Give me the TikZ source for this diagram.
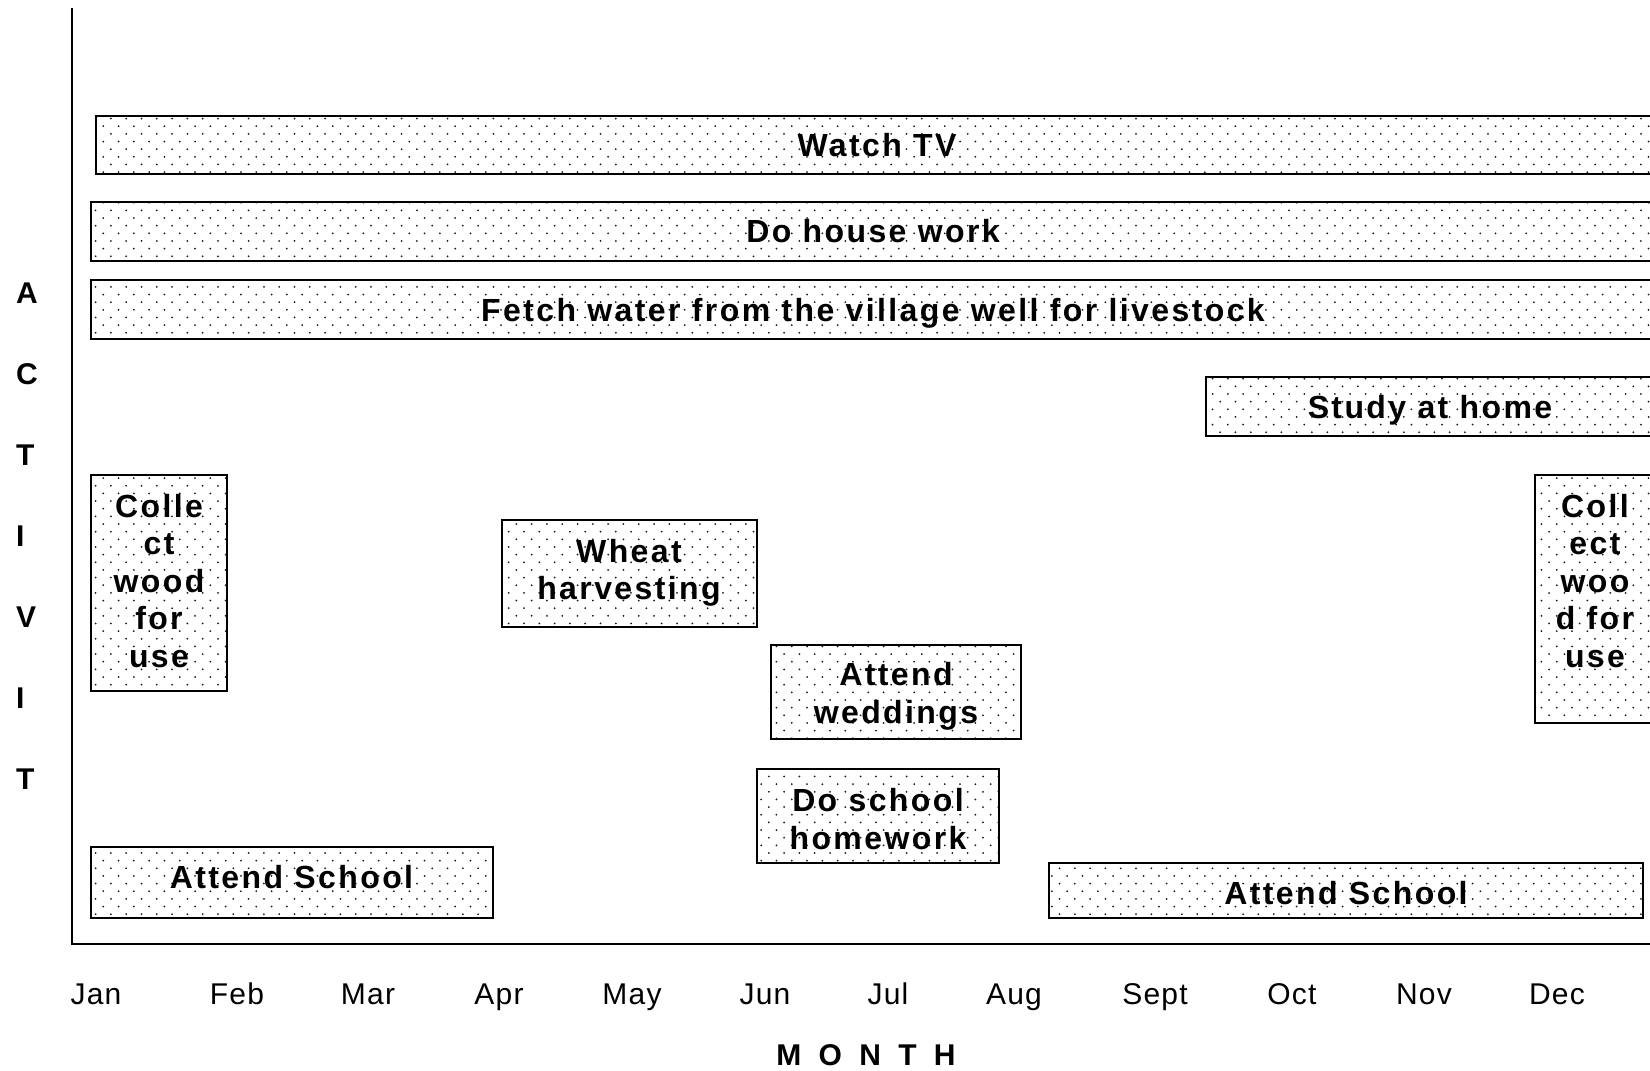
\documentclass[tikz,border=0pt]{standalone}
\usepackage{fontspec}
\setmainfont{Liberation Sans}
\newfontfamily\boxfont{Liberation Sans}[LetterSpace=7.5]
\newfontfamily\axisfont{Liberation Sans}[LetterSpace=4]
\newfontfamily\titlefont{Liberation Sans}[LetterSpace=30]
\usetikzlibrary{patterns}

% staggered sparse dot fill used by all activity bars
\pgfdeclarepatternformonly{sparsedots}{\pgfqpoint{-1pt}{-1pt}}{\pgfqpoint{16.3pt}{16.3pt}}{\pgfqpoint{15.3pt}{15.3pt}}{%
  \pgfpathcircle{\pgfqpoint{3.8pt}{3.8pt}}{1pt}%
  \pgfpathcircle{\pgfqpoint{11.45pt}{11.45pt}}{1pt}%
  \pgfusepath{fill}%
}

\tikzset{
  actbox/.style={draw=black, line width=2pt, pattern=sparsedots, pattern color=black!90,
    anchor=north west, inner sep=0pt, outer sep=0pt},
  boxtext/.style={font=\boxfont\bfseries\fontsize{32}{37.5}\selectfont, inner sep=0pt, align=center},
  axisline/.style={line width=2pt, line join=miter},
  monthlabel/.style={font=\axisfont\fontsize{30}{36}\selectfont, inner sep=0pt, anchor=base},
  axistitle/.style={font=\titlefont\bfseries\fontsize{30}{36}\selectfont, inner sep=0pt, anchor=base},
  actletter/.style={font=\bfseries\fontsize{30}{36}\selectfont, inner sep=0pt, anchor=base west},
}

\begin{document}
\begin{tikzpicture}[x=1pt, y=-1pt]
\path[use as bounding box, fill=white] (0,0) rectangle (1650,1071);
\clip (0,0) rectangle (1650,1071);

% axes
\coordinate (ytop) at (71.5,8);
\coordinate (origin) at (71.5,944);
\coordinate (xend) at (1652,944);
\draw[axisline] (ytop) -- (origin) -- (xend);

% activity bars
\node[actbox, minimum width=1560pt, minimum height=58pt] (tv)      at (96,116)  {};
\node[actbox, minimum width=1565pt, minimum height=59pt] (house)   at (91,202)  {};
\node[actbox, minimum width=1565pt, minimum height=59pt] (water)   at (91,280)  {};
\node[actbox, minimum width=450pt,  minimum height=59pt] (study)   at (1206,377) {};
\node[actbox, minimum width=136pt,  minimum height=216pt] (woodL)  at (91,475)  {};
\node[actbox, minimum width=255pt,  minimum height=107pt] (wheat)  at (502,520) {};
\node[actbox, minimum width=250pt,  minimum height=94pt] (wed)     at (771,645) {};
\node[actbox, minimum width=242pt,  minimum height=94pt] (hw)      at (757,769) {};
\node[actbox, minimum width=402pt,  minimum height=71pt] (schoolL) at (91,847)  {};
\node[actbox, minimum width=594pt,  minimum height=55pt] (schoolR) at (1049,863) {};
\node[actbox, minimum width=121pt,  minimum height=248pt] (woodR)  at (1535,475) {};

% bar labels
\node[boxtext, anchor=base] (tv-t)      at (877,156.5) {Watch TV};
\node[boxtext, anchor=base] (house-t)   at (873,242)   {Do house work};
\node[boxtext, anchor=base] (water-t)   at (873,321)   {Fetch water from the village well for livestock};
\node[boxtext, anchor=base] (study-t)   at (1430,418.5) {Study at home};
\node[boxtext]              (woodL-t)   at (159,581)   {Colle\\ct\\wood\\for\\use};
\node[boxtext]              (wheat-t)   at (629,573)   {Wheat\\harvesting};
\node[boxtext]              (wed-t)     at (896,696.5) {Attend\\weddings};
\node[boxtext]              (hw-t)      at (878,819)   {Do school\\homework};
\node[boxtext, anchor=base] (schoolL-t) at (291.5,888) {Attend School};
\node[boxtext, anchor=base] (schoolR-t) at (1346,904)  {Attend School};
\node[boxtext]              (woodR-t)   at (1595,581)  {Coll\\ect\\woo\\d for\\use};

% month labels
\foreach \m/\x in {Jan/96, Feb/237, Mar/368, Apr/499, May/632, Jun/765,
                   Jul/888, Aug/1014, Sept/1155, Oct/1292, Nov/1424, Dec/1557}
  \node[monthlabel] (m-\m) at (\x,1004) {\m};

% axis titles
\node[axistitle] (xtitle) at (866,1065) {M O N T H};
\foreach \l [count=\i] in {A,C,T,I,V,I,T}
  \node[actletter] (act\i) at (16,{303+81*(\i-1)}) {\l};
\end{tikzpicture}
\end{document}
